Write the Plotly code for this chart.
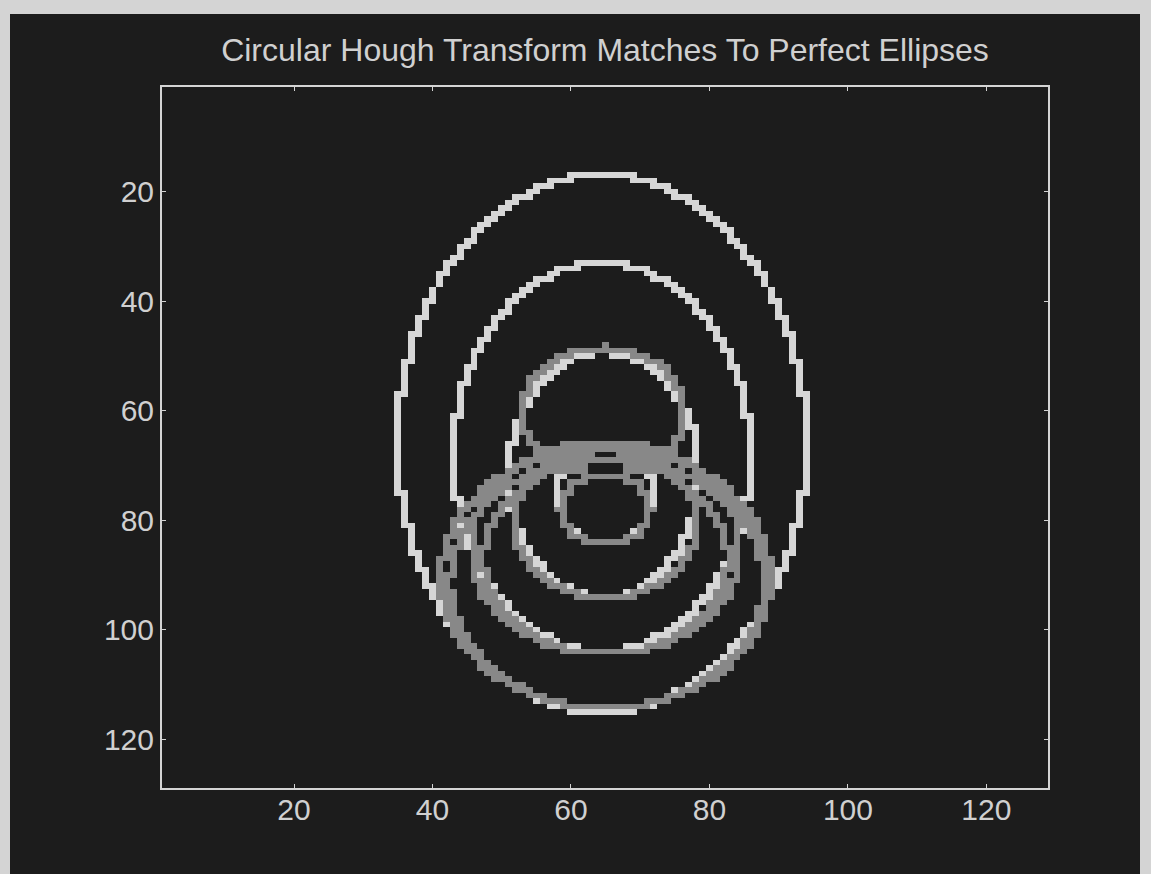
import numpy as np
import plotly.graph_objects as go

# Image grid (pixels, 1-based rows/cols)
N = 128

# Perfect ellipses: centre column, centre row, half-width, half-height
ellipse_cx = [64.5, 64.5, 64.75, 65.0]
ellipse_cy = [66.0, 68.5, 71.7, 75.0]
ellipse_a = [29.5, 21.5, 13.75, 6.8]
ellipse_b = [49.0, 35.5, 22.3, 9.5]

# Circles found by the circular Hough transform: centre column, centre row, radius
circle_cx = [65.25, 65.0, 65.0, 65.0, 65.0, 65.0, 64.7]
circle_cy = [91.5, 90.5, 85.0, 86.9, 80.7, 78.0, 60.2]
circle_r = [22.8, 23.8, 19.5, 17.6, 13.3, 6.5, 11.7]

x_ticks = [20, 40, 60, 80, 100, 120]
y_ticks = [20, 40, 60, 80, 100, 120]

BG = "#1c1c1c"
GRAY = "#888888"
WHITE = "#d6d6d6"
TEXT = "#d0d0d0"
FRAME = "#d4d4d4"


def trace_outline(img, cx, cy, rx, ry, value):
    t = np.linspace(0.0, 2.0 * np.pi, 8000, endpoint=False)
    cols = np.rint(cx + rx * np.cos(t)).astype(int)
    rows = np.rint(cy + ry * np.sin(t)).astype(int)
    ok = (cols >= 1) & (cols <= N) & (rows >= 1) & (rows <= N)
    img[rows[ok] - 1, cols[ok] - 1] = value


img = np.zeros((N, N))
for cx, cy, a, b in zip(ellipse_cx, ellipse_cy, ellipse_a, ellipse_b):
    trace_outline(img, cx, cy, a, b, 2)
for cx, cy, r in zip(circle_cx, circle_cy, circle_r):
    trace_outline(img, cx, cy, r, r, 1)

fig = go.Figure(
    go.Heatmap(
        z=img,
        x=np.arange(1, N + 1),
        y=np.arange(1, N + 1),
        zmin=0,
        zmax=2,
        colorscale=[[0, BG], [0.25, BG], [0.25, GRAY], [0.75, GRAY], [0.75, WHITE], [1, WHITE]],
        showscale=False,
        hoverinfo="skip",
        zsmooth=False,
    )
)

W, H = 1151, 874
L, R, T, B = 162, 103, 87, 86
pw, ph = W - L - R, H - T - B


def px(x):
    return (x - L) / pw


def py(y):
    return (H - B - y) / ph


# light margin strips around the dark figure
for x0, x1, y0, y1 in [
    (px(-5), px(1156), py(14), py(-5)),
    (px(-5), px(10), py(879), py(-5)),
    (px(1140), px(1156), py(879), py(-5)),
]:
    fig.add_shape(type="rect", xref="paper", yref="paper", x0=x0, x1=x1, y0=y0, y1=y1,
                  fillcolor=FRAME, line_width=0, layer="below")

axis_common = dict(
    showgrid=False,
    zeroline=False,
    showline=True,
    linecolor=FRAME,
    linewidth=2,
    mirror="ticks",
    ticks="inside",
    ticklen=4,
    tickwidth=1,
    tickcolor=FRAME,
    tickfont=dict(family="Liberation Sans", size=30, color=TEXT),
)

fig.update_layout(
    width=W,
    height=H,
    margin=dict(l=L, r=R, t=T, b=B),
    paper_bgcolor=BG,
    plot_bgcolor=BG,
    title=dict(
        text="Circular Hough Transform Matches To Perfect Ellipses",
        x=0.5,
        xref="paper",
        y=1 - 50 / H,
        yref="container",
        yanchor="middle",
        xanchor="center",
        font=dict(family="Liberation Sans", size=32, color=TEXT),
    ),
    xaxis=dict(range=[0.93, 128.9], tickvals=x_ticks, ticklabelstandoff=-6, **axis_common),
    yaxis=dict(range=[128.9, 0.9], tickvals=y_ticks, ticklabelstandoff=0, **axis_common),
)

fig.write_html("out.html")
